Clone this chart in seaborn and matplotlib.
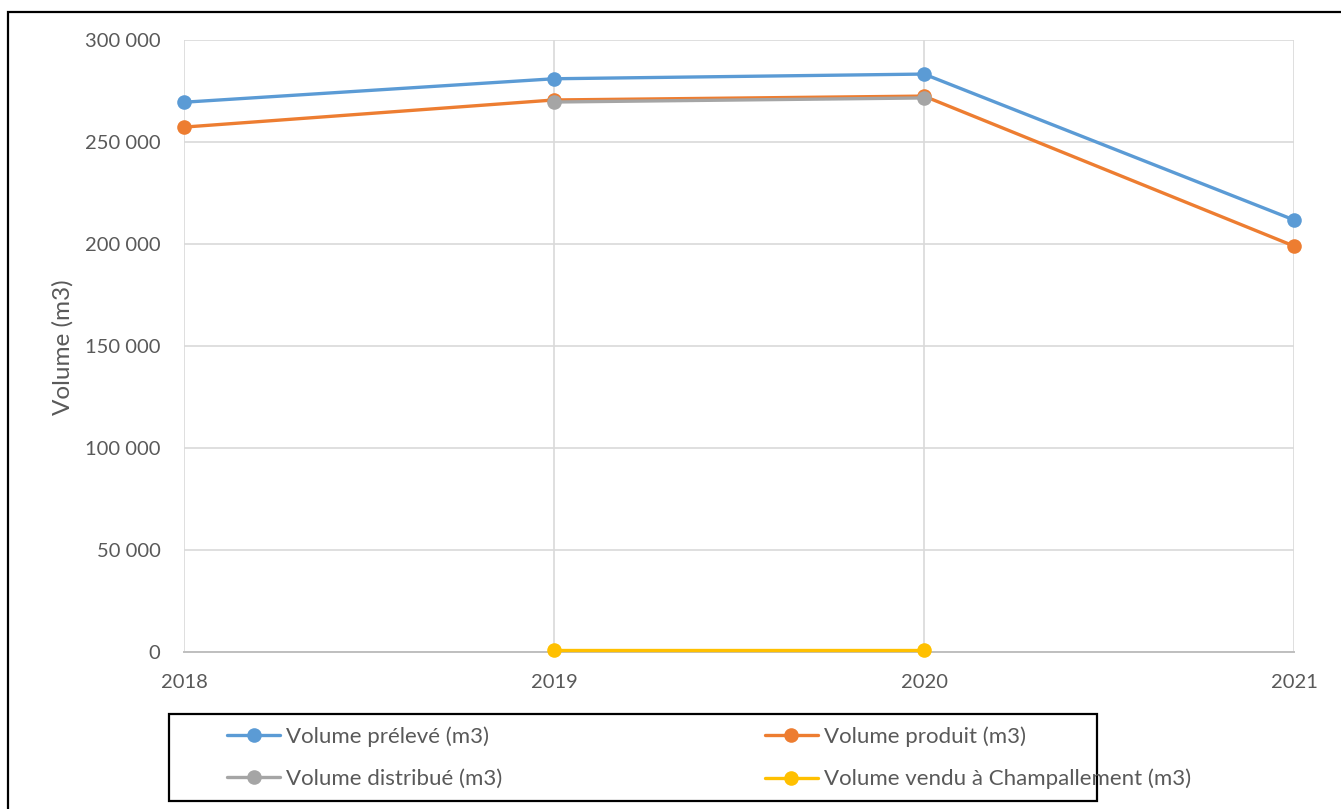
import numpy as np
import pandas as pd
import matplotlib
matplotlib.use("Agg")
import matplotlib.pyplot as plt
import seaborn as sns
from matplotlib.patches import Rectangle
from matplotlib.lines import Line2D
from matplotlib.ticker import FuncFormatter

years = [2018, 2019, 2020, 2021]
preleve = [269500, 281000, 283300, 211800]
produit = [257300, 270600, 272500, 199000]
distribue = [np.nan, 269600, 271600, np.nan]
vendu = [np.nan, 1000, 1000, np.nan]

series_names = [
    "Volume prélevé (m3)",
    "Volume produit (m3)",
    "Volume distribué (m3)",
    "Volume vendu à Champallement (m3)",
]
series_values = [preleve, produit, distribue, vendu]
colors = ["#5B9BD5", "#ED7D31", "#A5A5A5", "#FFC000"]

sns.set_theme(style="white")
plt.rcParams["font.family"] = ["Lato", "DejaVu Sans"]
text_color = "#595959"

W, H = 1341, 809
fig = plt.figure(figsize=(W / 100, H / 100), dpi=100)
ax = fig.add_axes([184 / W, 1 - 652 / H, (1294 - 184) / W, (652 - 40) / H])

for name, vals, col in zip(series_names, series_values, colors):
    df = pd.DataFrame({"year": years, "value": vals}).dropna()
    sns.lineplot(data=df, x="year", y="value", ax=ax, color=col, linewidth=2.4,
                 marker="o", markersize=10.5, markeredgewidth=0, label=name,
                 legend=False, zorder=3, clip_on=False)

ax.set_xlim(2018, 2021)
ax.set_ylim(0, 300000)
ax.set_xticks(years)
ax.set_yticks(np.arange(0, 300001, 50000))
ax.yaxis.set_major_formatter(FuncFormatter(lambda v, p: f"{int(v):,}".replace(",", " ")))
ax.grid(True, color="#D9D9D9", linewidth=1.2)
for s in ["top", "right", "left"]:
    ax.spines[s].set_visible(False)
ax.spines["bottom"].set_color("#BFBFBF")
ax.spines["bottom"].set_linewidth(1.4)
ax.spines["bottom"].set_zorder(2)
ax.tick_params(axis="both", length=0, labelsize=14.5, labelcolor=text_color)
ax.tick_params(axis="x", pad=16)
ax.tick_params(axis="y", pad=17)
ax.set_xlabel("")
ax.set_ylabel("Volume (m3)", fontsize=17.5, color=text_color, labelpad=0)
ax.yaxis.set_label_coords((74 - 184) / (1294 - 184), (652 - 347) / (652 - 40))

# outer chart border
fig.patches.append(Rectangle((8 / W, -0.02), 1.05, 1 - 12 / H + 0.02,
                             transform=fig.transFigure, fill=False,
                             edgecolor="#000000", linewidth=1.6))
# legend box
fig.patches.append(Rectangle((169 / W, 1 - 801 / H), (1097 - 169) / W, (801 - 714) / H,
                             transform=fig.transFigure, fill=False,
                             edgecolor="#000000", linewidth=1.6))

handles = [Line2D([], [], color=c, linewidth=2.4, marker="o", markersize=10.5,
                  markeredgewidth=0) for c in colors]
order = [0, 2, 1, 3]
leg = fig.legend([handles[i] for i in order], [series_names[i] for i in order],
                 ncol=2, frameon=False, loc="upper left",
                 bbox_to_anchor=(227 / W, 1 - 726 / H), borderpad=0, borderaxespad=0,
                 fontsize=16, handlelength=2.4, handletextpad=0.27,
                 labelspacing=1.0, columnspacing=11.8)
for t in leg.get_texts():
    t.set_color(text_color)

fig.savefig("out.png", dpi=100)
